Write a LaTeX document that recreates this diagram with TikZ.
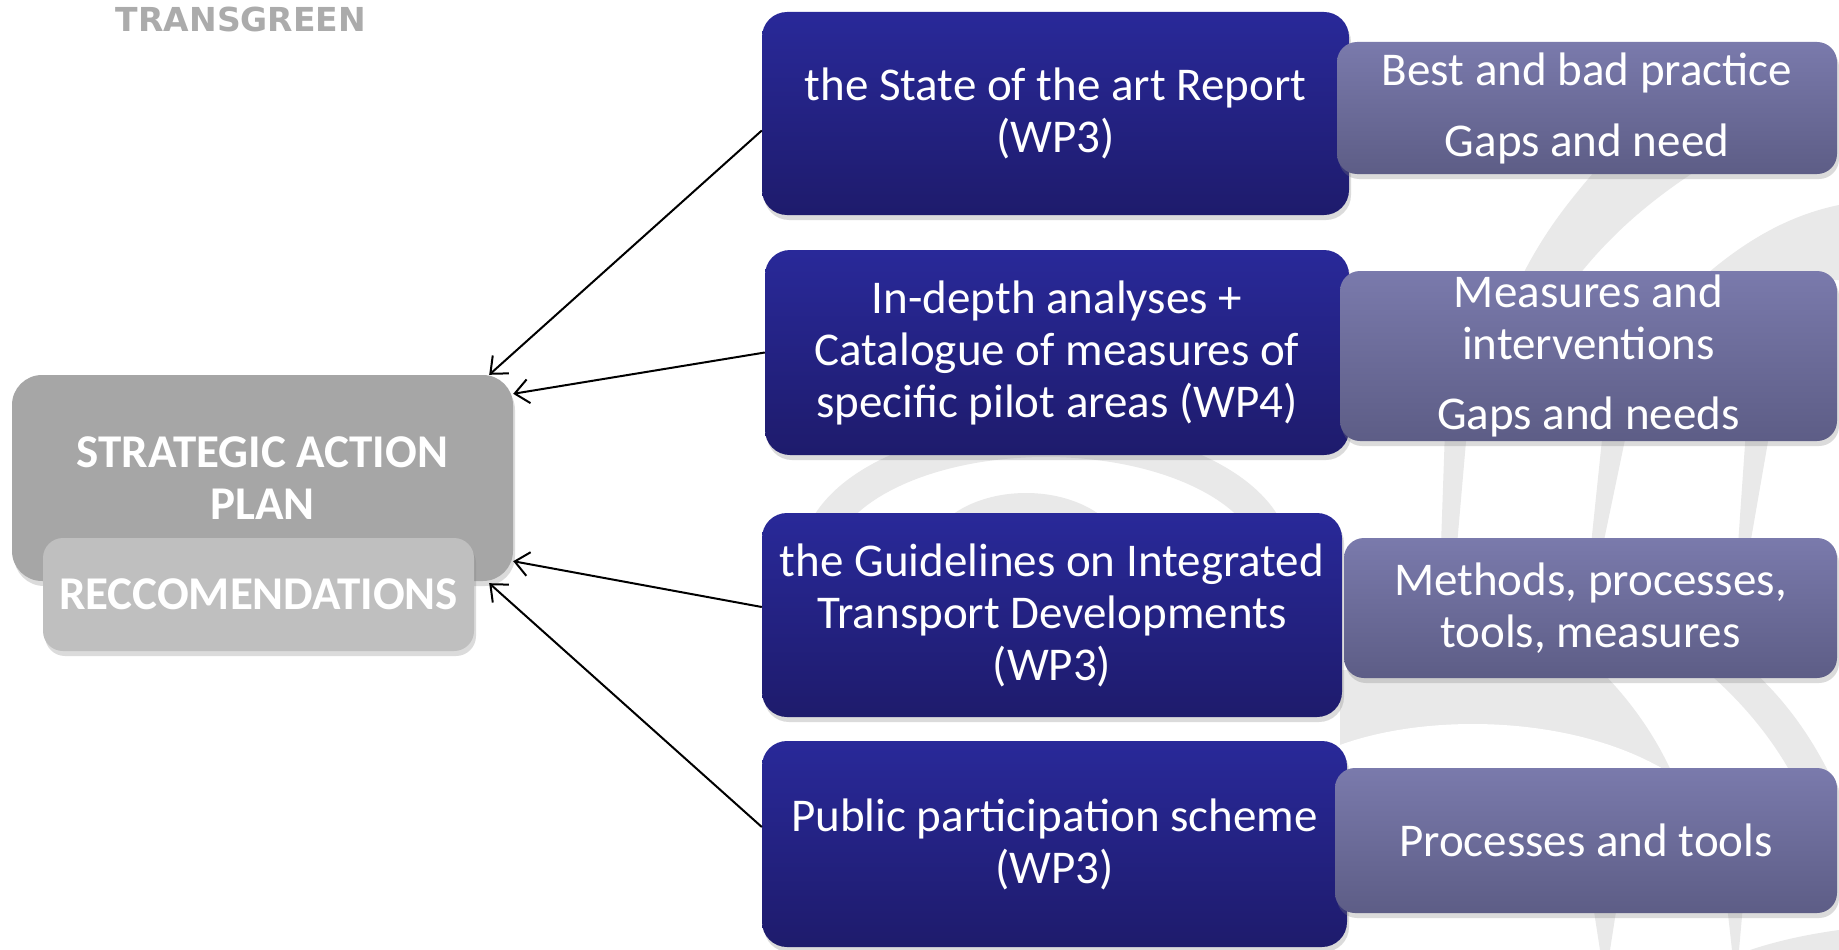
\documentclass[tikz,border=0pt]{standalone}
\usepackage{fontspec}
\setmainfont{Carlito}
\newfontfamily\logofont{DejaVu Sans}
\usetikzlibrary{arrows.meta,shadows}
\definecolor{bluetop}{RGB}{41,41,153}
\definecolor{bluebot}{RGB}{30,27,108}
\definecolor{purtop}{RGB}{122,122,172}
\definecolor{purbot}{RGB}{93,93,134}
\definecolor{graybox}{RGB}{166,166,166}
\definecolor{lgraybox}{RGB}{191,191,191}
\definecolor{wm}{RGB}{233,233,233}
\definecolor{logogray}{RGB}{171,171,171}
\begin{document}
\begin{tikzpicture}[x=1pt,y=-1pt,
  shadowed/.style={drop shadow={opacity=0.28,shadow xshift=2pt,shadow yshift=-5pt}},
  txt/.style={text=white, align=center, inner sep=0pt, font=\fontsize{47}{52}\selectfont},
  bluebox/.style={txt, shadowed, rounded corners=25pt, top color=bluetop, bottom color=bluebot},
  purbox/.style={txt, shadowed, rounded corners=20pt, top color=purtop, bottom color=purbot},
  graynode/.style={txt, shadowed, rounded corners=30pt, fill=graybox, font=\fontsize{47}{52}\selectfont\bfseries},
  lgraynode/.style={txt, shadowed, rounded corners=20pt, fill=lgraybox, font=\fontsize{47}{52}\selectfont\bfseries},
  arr/.style={draw=black, line width=2pt, -{Straight Barb[length=14pt,width=24pt]}},
  logo/.style={text=logogray, inner sep=0pt, font=\logofont\bfseries\fontsize{33}{36}\selectfont}
]
\useasboundingbox (0,0) rectangle (1839,950);
\fill[white] (0,0) rectangle (1839,950);
% watermark (faint background logo)
\draw[wm, line width=32pt] (817,560) arc[start angle=180, end angle=360, x radius=229, y radius=119];
\fill[wm] (1026,560) ellipse[x radius=100, y radius=67];
\fill[wm] (1445,430) -- (1467,430) -- (1457,545) -- (1441,545) -- cycle;
\fill[wm] (1603,430) -- (1627,430) -- (1603,545) -- (1591,545) -- cycle;
\fill[wm] (1746,430) -- (1770,430) -- (1750,545) -- (1738,545) -- cycle;
\fill[wm] (1520,280) .. controls (1545,230) and (1570,200) .. (1600,165) -- (1705,165) .. controls (1650,200) and (1610,235) .. (1575,280) -- cycle;
\fill[wm] (1700,280) .. controls (1745,240) and (1790,215) .. (1839,205) -- (1839,280) -- cycle;
\fill[wm] (1340,670) -- (1600,670) .. controls (1630,700) and (1655,735) .. (1673,775) -- (1340,775) -- cycle;
\fill[white] (1340,745) .. controls (1430,712) and (1580,715) .. (1673,775) -- (1340,775) -- cycle;
\fill[wm] (1705,670) -- (1752,670) .. controls (1785,700) and (1810,735) .. (1830,775) -- (1792,775) .. controls (1770,735) and (1740,700) .. cycle;
\fill[wm] (1593,905) -- (1617,905) -- (1610,950) -- (1600,950) -- cycle;
\fill[wm] (1727,905) -- (1743,905) -- (1739,950) -- (1732,950) -- cycle;
\fill[wm] (1750,950) .. controls (1780,940) and (1810,934) .. (1839,930) -- (1839,950) -- cycle;
% logo text
\node[logo] (logo) at (241,19) {TRANSGREEN};
% left boxes
\node[graynode, minimum width=501pt, minimum height=206pt] (g) at (262.5,478) {STRATEGIC ACTION\\PLAN};
\node[lgraynode, minimum width=431pt, minimum height=113pt] (r) at (258.5,594.5) {RECCOMENDATIONS};
% blue boxes
\node[bluebox, minimum width=587pt, minimum height=203pt] (b1) at (1055.5,113.5) {the State of the art Report\\(WP3)};
\node[bluebox, minimum width=584pt, minimum height=205pt] (b2) at (1057,352.5) {In-depth analyses +\\Catalogue of measures of\\specific pilot areas (WP4)};
\node[bluebox, minimum width=580pt, minimum height=204pt] (b3) at (1052,615) {the Guidelines on Integrated\\Transport Developments\\(WP3)};
\node[bluebox, minimum width=585pt, minimum height=206pt] (b4) at (1054.5,844) {Public participation scheme\\(WP3)};
% purple boxes
\node[purbox, minimum width=500pt, minimum height=132pt] (p1) at (1587,108) {Best and bad practice\\[19pt]Gaps and need};
\node[purbox, minimum width=497pt, minimum height=170pt] (p2) at (1588.5,356) {Measures and\\interventions\\[18pt]Gaps and needs};
\node[purbox, minimum width=493pt, minimum height=140pt] (p3) at (1590.5,608) {Methods, processes,\\tools, measures};
\node[purbox, minimum width=502pt, minimum height=145pt] (p4) at (1586,840.5) {Processes and tools};
% connectors
\draw[arr] ([yshift=-17pt]b1.west) -- ([xshift=-24pt]g.north east);
\draw[arr] (b2.west) -- ([yshift=-19pt]g.north east);
\draw[arr] ([yshift=8pt]b3.west) -- ([yshift=20pt]g.south east);
\draw[arr] ([yshift=17pt]b4.west) -- ([xshift=-24pt,yshift=-2pt]g.south east);
\end{tikzpicture}
\end{document}
